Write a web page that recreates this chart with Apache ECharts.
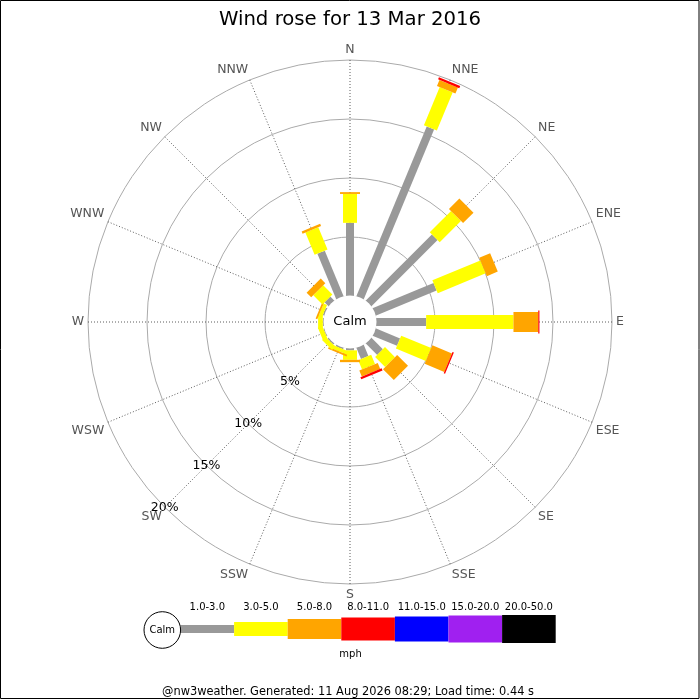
<!DOCTYPE html>
<html>
<head>
<meta charset="utf-8">
<title>Wind rose for 13 Mar 2016</title>
<script src="https://cdn.jsdelivr.net/npm/echarts@6/dist/echarts.min.js"></script>
<style>
  html, body { margin: 0; padding: 0; background: #fff; }
  #chart { width: 700px; height: 700px; }
</style>
</head>
<body>
<div id="chart"></div>
<script>
// compass points, clockwise from north
const directions = ['N', 'NNE', 'NE', 'ENE', 'E', 'ESE', 'SE', 'SSE',
  'S', 'SSW', 'SW', 'WSW', 'W', 'WNW', 'NW', 'NNW'];

// legend bands (mph)
const speedBands = ['1.0-3.0', '3.0-5.0', '5.0-8.0', '8.0-11.0', '11.0-15.0', '15.0-20.0', '20.0-50.0'];

// % of the day in each band, per direction
const band1to3 = [6.2, 15.6, 7.95, 5.6, 4.25, 2.25, 1.4, 1.05, 0.2, 0.15, 0.15, 0.1, 0.1, 0.15, 0.5, 4.2];
const band3to5 = [2.45, 3.5, 2.55, 4.4, 7.4, 2.75, 1.2, 0.85, 0.8, 0.3, 0.4, 0.4, 0.4, 0.3, 1.1, 2.05];
const band5to8 = [0.15, 0.55, 1.25, 1.0, 2.1, 1.8, 1.3, 0.55, 0.2, 0.15, 0, 0, 0, 0.15, 0.55, 0.2];
const band8to11 = [0, 0.2, 0, 0, 0.1, 0.12, 0, 0.2, 0, 0, 0, 0, 0, 0, 0, 0];

// radius rings (%)
const ringTicks = [0, 5, 10, 15, 20];

const bandColors = ['#999999', '#ffff00', '#ffa500', '#ff0000', '#0000ff', '#a020f0', '#000000'];
const bandWidths = [8, 14, 20, 23, 25, 27, 28];
const FONT = 'DejaVu Sans';

// angle axis starts at SW (so the % labels sit on that spoke), N is 135 deg round
const dirAngle = (i) => (135 + 22.5 * i) % 360;

const bandValues = [band1to3, band3to5, band5to8, band8to11];
const barData = [];
directions.forEach((d, i) => {
  let base = 0;
  bandValues.forEach((vals, b) => {
    const v = vals[i];
    if (v > 0) barData.push([base, base + v, dirAngle(i), b]);
    base += v;
  });
});

const renderBar = (params, api) => {
  const r0 = api.value(0);
  const r1 = api.value(1);
  const ang = api.value(2);
  const band = api.value(3);
  const p0 = api.coord([r0, ang]);
  const p1 = api.coord([r1, ang]);
  const cx = params.coordSys.cx;
  const cy = params.coordSys.cy;
  let ux = p1[0] - cx;
  let uy = p1[1] - cy;
  const len = Math.hypot(ux, uy) || 1;
  ux /= len;
  uy /= len;
  const hw = bandWidths[band] / 2;
  const nx = -uy * hw;
  const ny = ux * hw;
  return {
    type: 'polygon',
    shape: {
      points: [
        [p0[0] + nx, p0[1] + ny],
        [p1[0] + nx, p1[1] + ny],
        [p1[0] - nx, p1[1] - ny],
        [p0[0] - nx, p0[1] - ny],
      ],
    },
    style: { fill: bandColors[band] },
  };
};

// legend strip under the rose
const legendLeft = 180.5;
const legendStep = 53.6;
const legendMidY = 629;
const legendItems = [];
speedBands.forEach((label, b) => {
  const x = legendLeft + b * legendStep;
  legendItems.push({
    type: 'rect',
    shape: { x: x, y: legendMidY - bandWidths[b] / 2, width: legendStep, height: bandWidths[b] },
    style: { fill: bandColors[b] },
  });
  legendItems.push({
    type: 'text',
    x: x + legendStep / 2,
    y: 607,
    style: { text: label, fontSize: 10, fontFamily: FONT, fill: '#000', align: 'center', verticalAlign: 'middle' },
  });
});

const chart = echarts.init(document.getElementById('chart'));
const option = {
  animation: false,
  textStyle: { fontFamily: FONT },
  title: {
    text: 'Wind rose for 13 Mar 2016',
    left: 'center',
    top: 5,
    textStyle: { fontSize: 19.7, fontWeight: 'normal', color: '#000', fontFamily: FONT },
  },
  polar: { center: [350, 322], radius: [26, 262] },
  angleAxis: {
    type: 'value',
    min: 0,
    max: 360,
    interval: 22.5,
    startAngle: 225,
    clockwise: true,
    axisLine: { show: false },
    axisTick: { show: false },
    axisLabel: {
      margin: 4,
      fontSize: 12.5,
      color: '#555',
      fontFamily: FONT,
      formatter: (v) => {
        if (v >= 360) return '';
        const idx = (Math.round((v - 135) / 22.5) + 16) % 16;
        return directions[idx];
      },
    },
    splitLine: { show: true, lineStyle: { color: '#333', width: 0.8, type: [1, 2] } },
  },
  radiusAxis: {
    type: 'value',
    min: ringTicks[0],
    max: ringTicks[ringTicks.length - 1],
    interval: ringTicks[1] - ringTicks[0],
    axisLine: { show: false },
    axisTick: { show: false },
    axisLabel: {
      margin: 0,
      fontSize: 12.5,
      color: '#000',
      fontFamily: FONT,
      align: 'center',
      verticalAlign: 'middle',
      formatter: (v) => (v === 0 ? '' : v + '%'),
    },
    splitLine: { show: true, lineStyle: { color: '#aaa', width: 1 } },
  },
  series: [
    {
      type: 'custom',
      coordinateSystem: 'polar',
      encode: { radius: [0, 1], angle: 2 },
      renderItem: renderBar,
      data: barData,
    },
  ],
  graphic: [
    {
      type: 'rect',
      z: 100,
      shape: { x: 0.5, y: 0.5, width: 698.5, height: 698 },
      style: { fill: 'none', stroke: '#000', lineWidth: 1 },
    },
    {
      type: 'circle',
      z: 100,
      shape: { cx: 350, cy: 322, r: 26.5 },
      style: { fill: '#fff' },
    },
    {
      type: 'text',
      z: 101,
      x: 350,
      y: 322,
      style: { text: 'Calm', fontSize: 13, fontFamily: FONT, fill: '#000', align: 'center', verticalAlign: 'middle' },
    },
    {
      type: 'circle',
      z: 100,
      shape: { cx: 162.3, cy: 630, r: 18.3 },
      style: { fill: '#fff', stroke: '#000', lineWidth: 1 },
    },
    {
      type: 'text',
      z: 101,
      x: 162.3,
      y: 630,
      style: { text: 'Calm', fontSize: 10, fontFamily: FONT, fill: '#000', align: 'center', verticalAlign: 'middle' },
    },
    ...legendItems.map((el) => ({ ...el, z: 99 })),
    {
      type: 'text',
      z: 100,
      x: 350.5,
      y: 654,
      style: { text: 'mph', fontSize: 10, fontFamily: FONT, fill: '#000', align: 'center', verticalAlign: 'middle' },
    },
    {
      type: 'text',
      z: 100,
      x: 348,
      y: 692,
      style: {
        text: '@nw3weather. Generated: 11 Aug 2026 08:29; Load time: 0.44 s',
        fontSize: 11.4,
        fontFamily: FONT,
        fill: '#000',
        align: 'center',
        verticalAlign: 'middle',
      },
    },
  ],
};
chart.setOption(option);
</script>
</body>
</html>
